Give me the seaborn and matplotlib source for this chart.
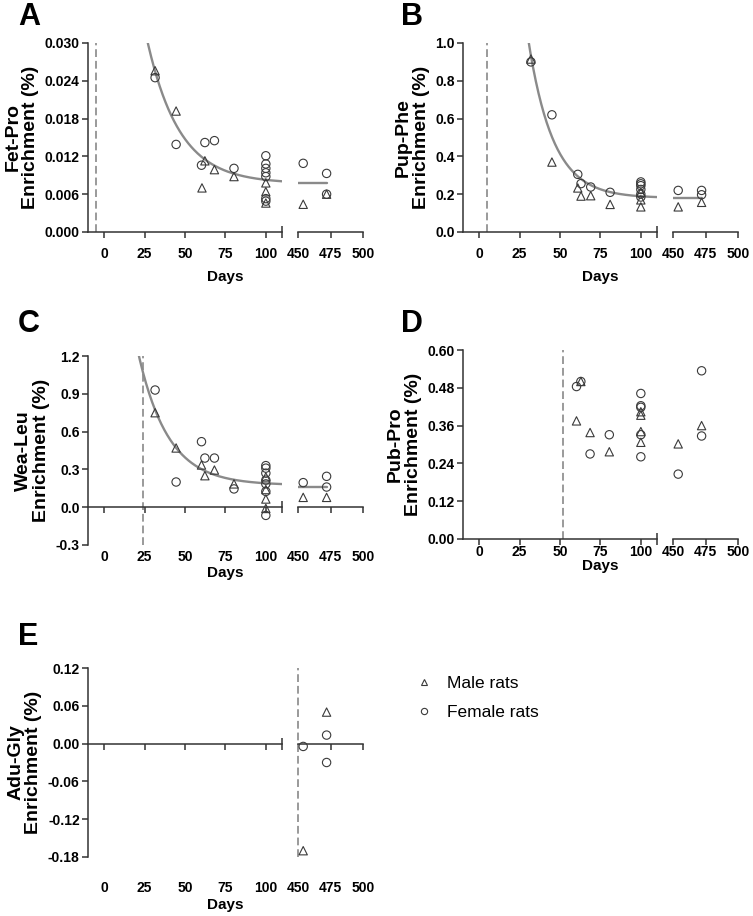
import numpy as np
import pandas as pd
import matplotlib
matplotlib.use("Agg")
import matplotlib.pyplot as plt
import seaborn as sns
from matplotlib.ticker import FormatStrFormatter

sns.set_theme(style="ticks")
plt.rcParams['font.family'] = ['Liberation Sans', 'DejaVu Sans']
plt.rcParams.update({'axes.edgecolor': '#333333',
                     'axes.linewidth': 1.1,
                     'text.color': 'black',
                     'axes.labelcolor': 'black',
                     'xtick.color': '#333333',
                     'ytick.color': '#333333',
                     'xtick.labelcolor': 'black',
                     'ytick.labelcolor': 'black',
                     'xtick.major.width': 1.1,
                     'ytick.major.width': 1.1,
                     'xtick.minor.width': 1.1})

# ---- data (days, enrichment %) ----
# A: Fet-Pro
fet_male_days = [31.5, 44.5, 60.5, 62.3, 68.2, 80.3, 100, 100, 100, 454, 472]
fet_male_vals = [0.0256, 0.0192, 0.0070, 0.0113, 0.0099, 0.0088, 0.0078, 0.0064, 0.0046, 0.0044, 0.0060]
fet_female_days = [31.5, 44.5, 60.2, 62.3, 68.2, 80.3, 100, 100, 100, 100, 100, 100, 100, 454, 472, 472]
fet_female_vals = [0.0245, 0.0139, 0.0106, 0.0142, 0.0145, 0.0101, 0.0121, 0.0108, 0.0101, 0.0094,
                   0.0088, 0.0053, 0.0049, 0.0109, 0.0093, 0.0060]
fet_fit = (27, 0.030, 0.0077, 0.050)   # start day, start value, plateau, rate
fet_late_mean = 0.0077

# B: Pup-Phe
pup_male_days = [32, 45, 61, 63, 69, 81, 100, 100, 100, 454, 472]
pup_male_vals = [0.915, 0.37, 0.233, 0.19, 0.192, 0.146, 0.21, 0.17, 0.133, 0.133, 0.157]
pup_female_days = [32, 45, 61, 63, 69, 81, 100, 100, 100, 100, 100, 100, 454, 472, 472]
pup_female_vals = [0.90, 0.62, 0.305, 0.256, 0.238, 0.21, 0.265, 0.255, 0.245, 0.225, 0.20, 0.185,
                   0.22, 0.22, 0.197]
pup_fit = (30.7, 1.0, 0.18, 0.065)
pup_late_mean = 0.178

# C: Wea-Leu
wea_male_days = [31.5, 44.5, 60.2, 62.3, 68.2, 80.3, 100, 100, 100, 100, 454, 472]
wea_male_vals = [0.75, 0.47, 0.335, 0.25, 0.295, 0.185, 0.24, 0.14, 0.065, -0.01, 0.078, 0.078]
wea_female_days = [31.5, 44.5, 60.2, 62.3, 68.2, 80.3, 100, 100, 100, 100, 100, 100, 100, 454, 472, 472]
wea_female_vals = [0.93, 0.20, 0.52, 0.39, 0.39, 0.145, 0.33, 0.31, 0.27, 0.215, 0.185, 0.125, -0.065,
                   0.195, 0.245, 0.16]
wea_fit = (21.5, 1.2, 0.175, 0.054)
wea_late_mean = 0.164

# D: Pub-Pro
pub_male_days = [62.9, 60.2, 68.6, 80.5, 100, 100, 100, 100, 454, 472]
pub_male_vals = [0.50, 0.375, 0.338, 0.277, 0.404, 0.393, 0.341, 0.307, 0.302, 0.36]
pub_female_days = [60.2, 62.9, 68.6, 80.5, 100, 100, 100, 100, 100, 454, 472, 472]
pub_female_vals = [0.484, 0.50, 0.27, 0.331, 0.462, 0.423, 0.418, 0.331, 0.261, 0.206, 0.534, 0.327]

# E: Adu-Gly
adu_male_days = [454, 472]
adu_male_vals = [-0.17, 0.05]
adu_female_days = [454, 472, 472]
adu_female_vals = [-0.0045, 0.0135, -0.030]

event_days = [-5, 5, 24, 52, 450]      # dashed line per panel
early_ticks = [0, 25, 50, 75, 100]
late_ticks = [450, 475, 500]

W, H = 753, 916
fig = plt.figure(figsize=(W / 100, H / 100), dpi=100)

marker_map = {'Male rats': '^', 'Female rats': 'o'}
sex_order = ['Male rats', 'Female rats']


def px_rect(x, top, w, h):
    return [x / W, 1 - (top + h) / H, w / W, h / H]


def panel(letter, name, mdays, mvals, fdays, fvals, yticks, ydec, event, fit, late_mean,
          x0, top, letter_xy, tick_pad, days_y, show_legend=False):
    df = pd.DataFrame({'day': mdays + fdays,
                       'value': mvals + fvals,
                       'sex': ['Male rats'] * len(mdays) + ['Female rats'] * len(fdays)})
    early = df[df['day'] <= 110]
    late = df[df['day'] >= 450]

    ax_l = fig.add_axes(px_rect(x0, top, 194, 189))
    ax_r = fig.add_axes(px_rect(x0 + 210, top, 65, 189))

    for ax, part, lim, ticks, cap in [(ax_l, early, (-10, 110), early_ticks, 110),
                                      (ax_r, late, (450, 500), late_ticks, 450)]:
        if len(part):
            sns.scatterplot(data=part, x='day', y='value', style='sex', style_order=sex_order,
                            markers=marker_map, s=36, facecolor='none', edgecolor='#3a3a3a',
                            linewidth=0.8, ax=ax, zorder=4,
                            legend=(show_legend and ax is ax_r))
        ax.set_xlim(*lim)
        ax.set_ylim(yticks[0], yticks[-1])
        ax.spines['top'].set_visible(False)
        ax.spines['right'].set_visible(False)
        ax.spines['bottom'].set_position(('data', 0))
        ax.set_xticks(ticks)
        ax.set_xticks([cap], minor=True)
        ax.tick_params(axis='x', which='major', direction='out', length=4, labelbottom=False)
        ax.tick_params(axis='x', which='minor', direction='inout', length=9)
        ax.set_xlabel('')
        ax.set_ylabel('')
        sec = ax.secondary_xaxis(0)
        sec.set_xticks(ticks)
        sec.tick_params(length=0, pad=tick_pad)
        sec.spines['bottom'].set_visible(False)
        for t in sec.get_xticklabels():
            t.set_fontweight('bold')
            t.set_fontsize(10)

    ax_r.spines['left'].set_visible(False)
    ax_r.set_yticks([])
    ax_l.set_yticks(yticks)
    ax_l.yaxis.set_major_formatter(FormatStrFormatter('%.' + str(ydec) + 'f'))
    ax_l.tick_params(axis='y', direction='out', length=4, labelsize=10, pad=2)
    for t in ax_l.get_yticklabels():
        t.set_fontweight('bold')
    ax_l.set_ylabel(name + '\nEnrichment (%)', fontsize=14, fontweight='bold', labelpad=4,
                    linespacing=1.05)

    # dashed marker for the start of the labelling period
    ev_ax = ax_l if event <= 110 else ax_r
    ev_ax.axvline(event, color='#9a9a9a', lw=1.4, ls=(0, (4, 2)), clip_on=False, zorder=2)

    # one-phase decay fit and late-age mean
    if fit is not None:
        start, start_val, plateau, k = fit
        fx = np.linspace(start - 5, 110, 200)
        fy = plateau + (start_val - plateau) * np.exp(-k * (fx - start))
        sns.lineplot(x=fx, y=fy, color='#8a8a8a', lw=1.7, ax=ax_l, zorder=3)
        ax_l.set_ylim(yticks[0], yticks[-1])
        sns.lineplot(x=[450, late['day'].max()], y=[late_mean, late_mean],
                     color='#8a8a8a', lw=1.7, ax=ax_r, zorder=3)
        ax_r.set_xlim(450, 500)

    fig.text(letter_xy[0] / W, 1 - letter_xy[1] / H, letter, fontsize=22, fontweight='bold',
             ha='left', va='top')
    fig.text((x0 + 137) / W, 1 - days_y / H, 'Days', fontsize=11, fontweight='bold',
             ha='center', va='center')
    return ax_r


panel('A', 'Fet-Pro', fet_male_days, fet_male_vals, fet_female_days, fet_female_vals,
      [0.0, 0.006, 0.012, 0.018, 0.024, 0.030], 3, event_days[0], fet_fit, fet_late_mean,
      88, 43, (18, 2), 11, 277)
panel('B', 'Pup-Phe', pup_male_days, pup_male_vals, pup_female_days, pup_female_vals,
      [0.0, 0.2, 0.4, 0.6, 0.8, 1.0], 1, event_days[1], pup_fit, pup_late_mean,
      463, 43, (401, 2), 11, 277)
panel('C', 'Wea-Leu', wea_male_days, wea_male_vals, wea_female_days, wea_female_vals,
      [-0.3, 0.0, 0.3, 0.6, 0.9, 1.2], 1, event_days[2], wea_fit, wea_late_mean,
      88, 356, (18, 309), 3.5, 573)
panel('D', 'Pub-Pro', pub_male_days, pub_male_vals, pub_female_days, pub_female_vals,
      [0.0, 0.12, 0.24, 0.36, 0.48, 0.60], 2, event_days[3], None, None,
      463, 350, (401, 309), 4.3, 566)
ax_e = panel('E', 'Adu-Gly', adu_male_days, adu_male_vals, adu_female_days, adu_female_vals,
             [-0.18, -0.12, -0.06, 0.0, 0.06, 0.12], 2, event_days[4], None, None,
             88, 668, (18, 622), 17, 905, show_legend=True)

sns.move_legend(ax_e, 'center left', bbox_to_anchor=(398 / W, 1 - 698 / H),
                bbox_transform=fig.transFigure, title=None, frameon=False, fontsize=12.5,
                markerscale=0.75, handletextpad=0.3, labelspacing=0.75, borderpad=0)

fig.savefig('out.png', dpi=100)
